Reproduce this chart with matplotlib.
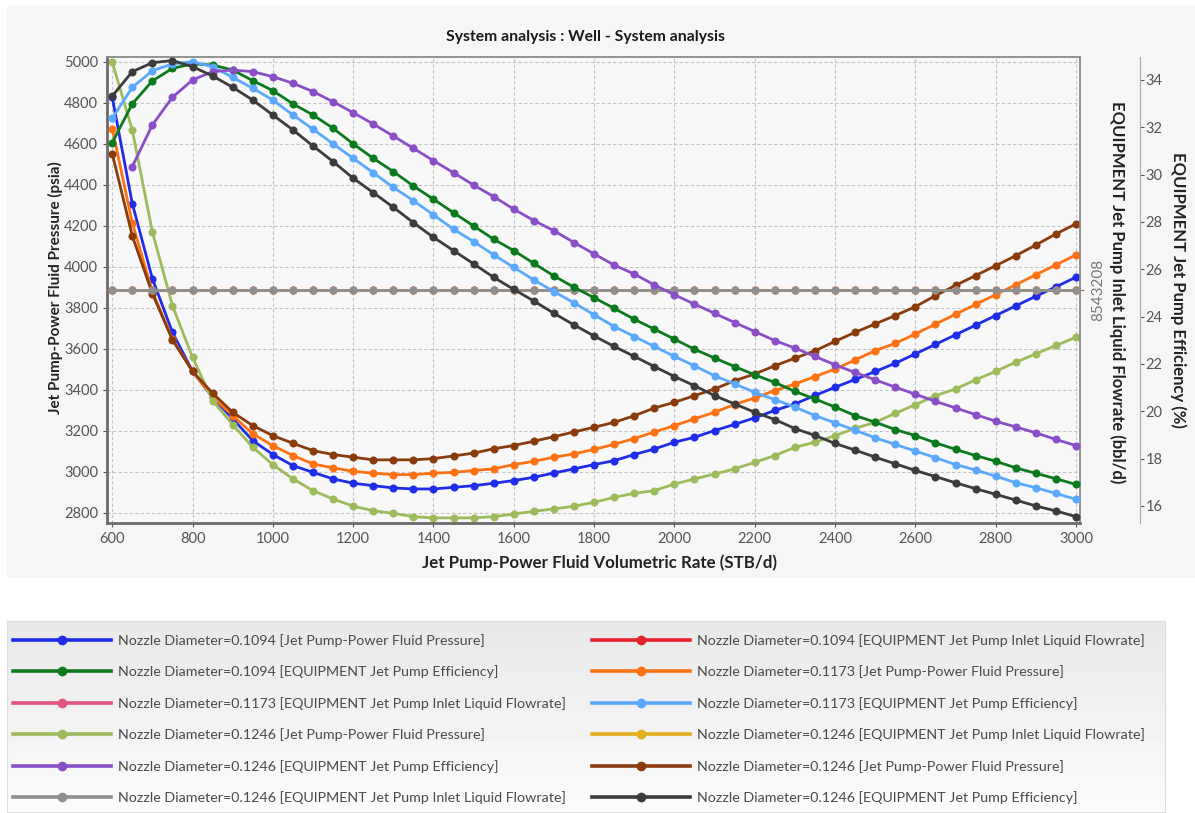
import numpy as np
import matplotlib.pyplot as plt
from matplotlib.patches import Rectangle
from matplotlib.lines import Line2D

plt.rcParams['font.family'] = ['Lato', 'DejaVu Sans']

# power fluid rate (STB/d), one point every 50
rate = np.arange(600, 3001, 50)

# Jet Pump-Power Fluid Pressure (psia)
p_1094 = [4828, 4309, 3943, 3681, 3491, 3364, 3259, 3153, 3085, 3031, 2998, 2966, 2945,
          2933, 2922, 2917, 2917, 2925, 2933, 2945, 2958, 2974, 2995, 3015, 3036, 3055,
          3085, 3112, 3145, 3169, 3202, 3232, 3264, 3300, 3332, 3373, 3413, 3451, 3490,
          3530, 3576, 3622, 3669, 3716, 3763, 3810, 3857, 3903, 3950]
p_1173 = [4675, 4215, 3880, 3649, 3491, 3365, 3275, 3186, 3128, 3080, 3039, 3020, 3003,
          2994, 2987, 2987, 2994, 2998, 3007, 3015, 3036, 3052, 3072, 3088, 3110, 3135,
          3163, 3195, 3226, 3259, 3291, 3329, 3361, 3397, 3429, 3465, 3502, 3546, 3592,
          3627, 3673, 3721, 3769, 3817, 3865, 3913, 3962, 4010, 4059]
p_1246a = [5000, 4667, 4171, 3811, 3559, 3348, 3231, 3120, 3036, 2966, 2909, 2868, 2833,
           2811, 2798, 2782, 2776, 2776, 2776, 2782, 2795, 2808, 2820, 2833, 2852, 2876,
           2896, 2909, 2941, 2966, 2990, 3015, 3047, 3080, 3120, 3145, 3177, 3213, 3242,
           3286, 3328, 3372, 3405, 3449, 3491, 3535, 3576, 3617, 3657]
p_1246b = [4553, 4151, 3870, 3644, 3491, 3384, 3291, 3226, 3177, 3140, 3104, 3085, 3072,
           3059, 3059, 3059, 3065, 3078, 3092, 3113, 3129, 3150, 3172, 3195, 3218, 3242,
           3274, 3312, 3340, 3372, 3405, 3445, 3478, 3518, 3555, 3591, 3637, 3681, 3722,
           3763, 3806, 3860, 3910, 3958, 4006, 4055, 4107, 4161, 4210]

# EQUIPMENT Jet Pump Efficiency (%)
e_1094 = [31.35, 32.99, 33.96, 34.49, 34.68, 34.63, 34.42, 33.97, 33.55, 32.99, 32.52,
          31.96, 31.30, 30.69, 30.13, 29.52, 28.96, 28.39, 27.83, 27.27, 26.79, 26.25,
          25.72, 25.24, 24.80, 24.35, 23.89, 23.47, 23.05, 22.62, 22.25, 21.89, 21.54,
          21.22, 20.84, 20.52, 20.18, 19.82, 19.54, 19.23, 18.97, 18.67, 18.39, 18.13,
          17.89, 17.61, 17.38, 17.15, 16.91]
e_1173 = [32.38, 33.69, 34.39, 34.68, 34.77, 34.56, 34.11, 33.65, 33.15, 32.52, 31.92,
          31.30, 30.69, 30.08, 29.46, 28.90, 28.30, 27.69, 27.17, 26.61, 26.08, 25.55,
          25.06, 24.58, 24.08, 23.58, 23.16, 22.74, 22.32, 21.92, 21.50, 21.16, 20.80,
          20.49, 20.18, 19.82, 19.51, 19.20, 18.88, 18.60, 18.32, 18.04, 17.75, 17.52,
          17.26, 16.98, 16.77, 16.53, 16.28]
e_1246a = [np.nan, 30.34, 32.10, 33.27, 34.00, 34.35, 34.42, 34.35, 34.14, 33.86, 33.51,
           33.08, 32.62, 32.14, 31.63, 31.11, 30.59, 30.08, 29.56, 29.07, 28.54, 28.06,
           27.63, 27.13, 26.65, 26.18, 25.80, 25.34, 24.92, 24.53, 24.14, 23.75, 23.37,
           22.99, 22.67, 22.32, 21.96, 21.64, 21.33, 21.02, 20.72, 20.42, 20.14, 19.86,
           19.58, 19.34, 19.09, 18.81, 18.55]
e_1246b = [33.32, 34.35, 34.73, 34.82, 34.56, 34.17, 33.69, 33.15, 32.52, 31.89, 31.21,
           30.55, 29.85, 29.24, 28.62, 27.97, 27.35, 26.79, 26.23, 25.66, 25.15, 24.66,
           24.14, 23.65, 23.18, 22.74, 22.32, 21.89, 21.47, 21.08, 20.66, 20.31, 19.96,
           19.65, 19.27, 18.98, 18.64, 18.36, 18.06, 17.78, 17.50, 17.24, 16.98, 16.73,
           16.49, 16.25, 16.00, 15.79, 15.55]

# EQUIPMENT Jet Pump Inlet Liquid Flowrate (bbl/d) - same for every nozzle
inlet_flow = 8543208
q_all = [inlet_flow] * len(rate)

# (label, data, colour, axis) in the order of the legend, row by row
series = [
    ("Nozzle Diameter=0.1094 [Jet Pump-Power Fluid Pressure]", p_1094, "#1f2de8", "p"),
    ("Nozzle Diameter=0.1094 [EQUIPMENT Jet Pump Inlet Liquid Flowrate]", q_all, "#e3222b", "q"),
    ("Nozzle Diameter=0.1094 [EQUIPMENT Jet Pump Efficiency]", e_1094, "#0b7a1c", "e"),
    ("Nozzle Diameter=0.1173 [Jet Pump-Power Fluid Pressure]", p_1173, "#ff7214", "p"),
    ("Nozzle Diameter=0.1173 [EQUIPMENT Jet Pump Inlet Liquid Flowrate]", q_all, "#e0547e", "q"),
    ("Nozzle Diameter=0.1173 [EQUIPMENT Jet Pump Efficiency]", e_1173, "#5aa9ff", "e"),
    ("Nozzle Diameter=0.1246 [Jet Pump-Power Fluid Pressure]", p_1246a, "#9dbb5b", "p"),
    ("Nozzle Diameter=0.1246 [EQUIPMENT Jet Pump Inlet Liquid Flowrate]", q_all, "#e2ae1e", "q"),
    ("Nozzle Diameter=0.1246 [EQUIPMENT Jet Pump Efficiency]", e_1246a, "#8a4fc6", "e"),
    ("Nozzle Diameter=0.1246 [Jet Pump-Power Fluid Pressure]", p_1246b, "#8a3b0b", "p"),
    ("Nozzle Diameter=0.1246 [EQUIPMENT Jet Pump Inlet Liquid Flowrate]", q_all, "#8f8f8f", "q"),
    ("Nozzle Diameter=0.1246 [EQUIPMENT Jet Pump Efficiency]", e_1246b, "#3c3c3c", "e"),
]

W, H = 1195, 813
fig = plt.figure(figsize=(W / 100, H / 100), dpi=100)

def fx(px):
    return px / W

def fy(py):
    return 1 - py / H

# light panel behind the chart
fig.add_artist(Rectangle((fx(7), fy(578)), 1, (578 - 5) / H, transform=fig.transFigure,
                         facecolor="#f6f6f6", edgecolor="none", zorder=-5))

ax = fig.add_axes([fx(107), fy(523), (1080 - 107) / W, (523 - 57) / H])
ax.set_facecolor("#f8f8f8")
ax_q = ax.twinx()
ax_e = ax.twinx()

axes_for = {"p": ax, "q": ax_q, "e": ax_e}
# flowrate lines last so the grey one ends on top
order = [i for i, s in enumerate(series) if s[3] != "q"] + \
        [i for i, s in enumerate(series) if s[3] == "q"]
for i in order:
    label, vals, col, which = series[i]
    axes_for[which].plot(rate, vals, color=col, lw=2.0, marker="o", ms=5.8,
                         markeredgewidth=0, label=label)

# main axis
ax.set_xlim(587, 3010)
ax.set_ylim(2751, 5024)
ax.set_xticks(np.arange(600, 3001, 200))
ax.set_yticks(np.arange(2800, 5001, 200))
ax.grid(True, color="#c4c4c4", linestyle=(0, (3, 2)), linewidth=0.8)
ax.set_axisbelow(True)
ax.tick_params(colors="#555555", labelsize=10.5, length=3)
for side in ["left", "bottom"]:
    ax.spines[side].set_color("#6a6a6a")
    ax.spines[side].set_linewidth(2.0)
for side in ["top", "right"]:
    ax.spines[side].set_color("#8a8a8a")
    ax.spines[side].set_linewidth(1.3)

# inlet flowrate axis (one value only)
ax_q.set_ylim(inlet_flow - 1.004, inlet_flow + 1)
ax_q.set_yticks([inlet_flow])
ax_q.set_yticklabels([str(inlet_flow)], rotation=90, va="center")
ax_q.tick_params(colors="#777777", labelsize=11, length=3, pad=5)
for side in ["left", "top", "bottom", "right"]:
    ax_q.spines[side].set_visible(False)

# efficiency axis
ax_e.set_ylim(15.28, 34.97)
ax_e.set_yticks(np.arange(16, 35, 2))
ax_e.spines["right"].set_position(("outward", 43))
ax_e.spines["right"].set_color("#a8a8a8")
for side in ["left", "top", "bottom"]:
    ax_e.spines[side].set_visible(False)
ax_e.tick_params(colors="#555555", labelsize=10.5, length=3, pad=1)

# titles
fig.text(fx(585), fy(37), "System analysis : Well - System analysis", ha="center",
         va="center", fontsize=11.3, fontweight="bold", color="#1a1a1a")
fig.text(fx(599), fy(563), "Jet Pump-Power Fluid Volumetric Rate (STB/d)", ha="center",
         va="center", fontsize=12.2, fontweight="bold", color="#222222")
fig.text(fx(55), fy(288), "Jet Pump-Power Fluid Pressure (psia)", ha="center",
         va="center", rotation=90, fontsize=11, fontweight="bold", color="#222222")
fig.text(fx(1117), fy(292), "EQUIPMENT Jet Pump Inlet Liquid Flowrate (bbl/d)", ha="center",
         va="center", rotation=270, fontsize=12, fontweight="bold", color="#222222")
fig.text(fx(1178), fy(290), "EQUIPMENT Jet Pump Efficiency (%)", ha="center",
         va="center", rotation=270, fontsize=12, fontweight="bold", color="#222222")

# legend box with soft gradient
bg = fig.add_axes([fx(7), fy(812), (1165 - 7) / W, (812 - 621) / H], zorder=-1)
grad = np.linspace(0.91, 0.985, 64).reshape(-1, 1)
bg.imshow(grad, aspect="auto", cmap="gray", vmin=0, vmax=1, extent=[0, 1, 0, 1],
          origin="upper")
bg.set_xticks([])
bg.set_yticks([])
for sp in bg.spines.values():
    sp.set_color("#dddddd")

handles = [Line2D([], [], color=s[2], lw=2.6, marker="o", ms=7, markeredgewidth=0)
           for s in series]
labels = [s[0] for s in series]
leg_kw = dict(loc="upper left", frameon=False, fontsize=10.3, handlelength=6.85,
              handletextpad=0.48, labelspacing=1.29, borderpad=0, borderaxespad=0,
              labelcolor="#4a4a4a")
fig.legend(handles[0::2], labels[0::2], bbox_to_anchor=(fx(13), fy(634)), **leg_kw)
fig.legend(handles[1::2], labels[1::2], bbox_to_anchor=(fx(592), fy(634)), **leg_kw)

fig.savefig("out.png", dpi=100)
